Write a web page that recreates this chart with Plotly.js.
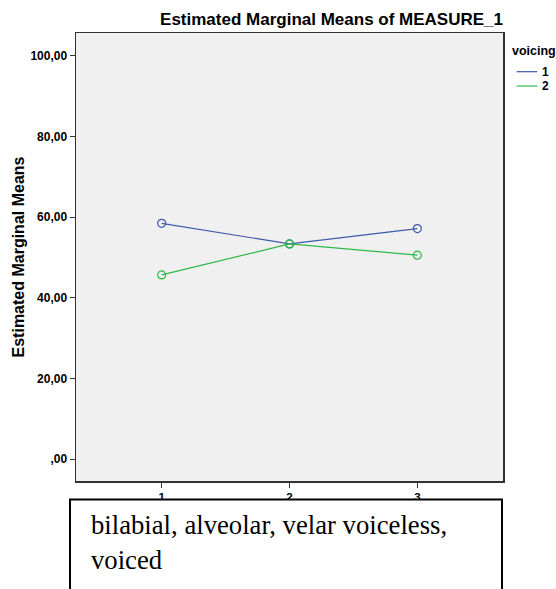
<!DOCTYPE html>
<html>
<head>
<meta charset="utf-8">
<script src="https://cdn.plot.ly/plotly-3.0.1.min.js"></script>
<style>html,body{margin:0;padding:0;background:#fff;}#chart{width:556px;height:589px;}</style>
</head>
<body>
<div id="chart"></div>
<script>
const categories = [1, 2, 3];
const seriesNames = ['1', '2'];
const voicing1 = [58.5, 53.4, 57.2];
const voicing2 = [45.7, 53.4, 50.6];
const yTickVals = [0, 20, 40, 60, 80, 100];
const yTickText = [',00', '20,00', '40,00', '60,00', '80,00', '100,00'];
const legendTitle = 'voicing';
const chartTitle = 'Estimated Marginal Means of MEASURE_1';
const yTitle = 'Estimated Marginal Means';
const boxText = 'bilabial, alveolar, velar voiceless,<br>voiced';

const colors = ['#3E58AC', '#2EB848'];
const seriesValues = [voicing1, voicing2];

const W = 556, H = 589;
const m = {l: 76, r: 53, t: 33, b: 108};
const pw = W - m.l - m.r, ph = H - m.t - m.b;
const px = x => (x - m.l) / pw;
const py = y => (H - m.b - y) / ph;

const traces = seriesValues.map((vals, i) => ({
  x: categories, y: vals, type: 'scatter', mode: 'lines+markers',
  name: seriesNames[i], showlegend: false,
  line: {color: colors[i], width: 1.2},
  marker: {symbol: 'circle-open', size: 8, color: colors[i], line: {width: 1.2, color: colors[i]}},
  hoverinfo: 'skip'
}));

const bold = {family: 'Liberation Sans, Arial, sans-serif', color: '#000', weight: 'bold'};

const shapes = [
  {type: 'rect', xref: 'paper', yref: 'paper', x0: px(70), x1: px(502), y0: py(620), y1: py(499.5),
   fillcolor: '#ffffff', line: {color: '#000', width: 2}, layer: 'above'}
];
const annotations = [
  {xref: 'paper', yref: 'paper', x: px(510), y: py(50.5), xanchor: 'left', yanchor: 'middle',
   text: legendTitle, showarrow: false, font: Object.assign({}, bold, {size: 12.5})},
  {xref: 'paper', yref: 'paper', x: px(88.5), y: py(508), xanchor: 'left', yanchor: 'top', align: 'left',
   text: boxText, showarrow: false, font: {family: 'Liberation Serif, Times New Roman, serif', size: 26.7, color: '#000'}}
];
seriesNames.forEach((nm, i) => {
  const yy = 71.7 + i * 14.3;
  shapes.push({type: 'line', xref: 'paper', yref: 'paper', x0: px(516.7), x1: px(537.3), y0: py(yy), y1: py(yy),
    line: {color: colors[i], width: 1.2}});
  annotations.push({xref: 'paper', yref: 'paper', x: px(539.5), y: py(yy), xanchor: 'left', yanchor: 'middle',
    text: nm, showarrow: false, font: Object.assign({}, bold, {size: 12})});
});

const layout = {
  width: W, height: H, margin: m,
  paper_bgcolor: '#ffffff', plot_bgcolor: '#f0f0f0',
  showlegend: false,
  title: {text: chartTitle, xref: 'paper', x: 1, xanchor: 'right', yref: 'container', y: 1 - 19 / H, yanchor: 'middle',
    font: Object.assign({}, bold, {size: 17})},
  xaxis: {range: [0.33, 3.67], tickvals: categories, ticktext: categories.map(String), showgrid: false, zeroline: false,
    showline: true, mirror: true, linecolor: '#333', linewidth: 1.5, ticks: 'outside', ticklen: 5, tickcolor: '#333',
    tickfont: Object.assign({}, bold, {size: 11.5})},
  yaxis: {range: [-5.4, 105.7], tickvals: yTickVals, ticktext: yTickText, showgrid: false, zeroline: false,
    showline: true, mirror: true, linecolor: '#333', linewidth: 1.5, ticks: 'outside', ticklen: 5, tickcolor: '#333',
    tickfont: Object.assign({}, bold, {size: 12}),
    title: {text: yTitle, standoff: 2, font: Object.assign({}, bold, {size: 16})}},
  shapes: shapes, annotations: annotations
};

Plotly.newPlot('chart', traces, layout, {staticPlot: true, displayModeBar: false});
</script>
</body>
</html>
